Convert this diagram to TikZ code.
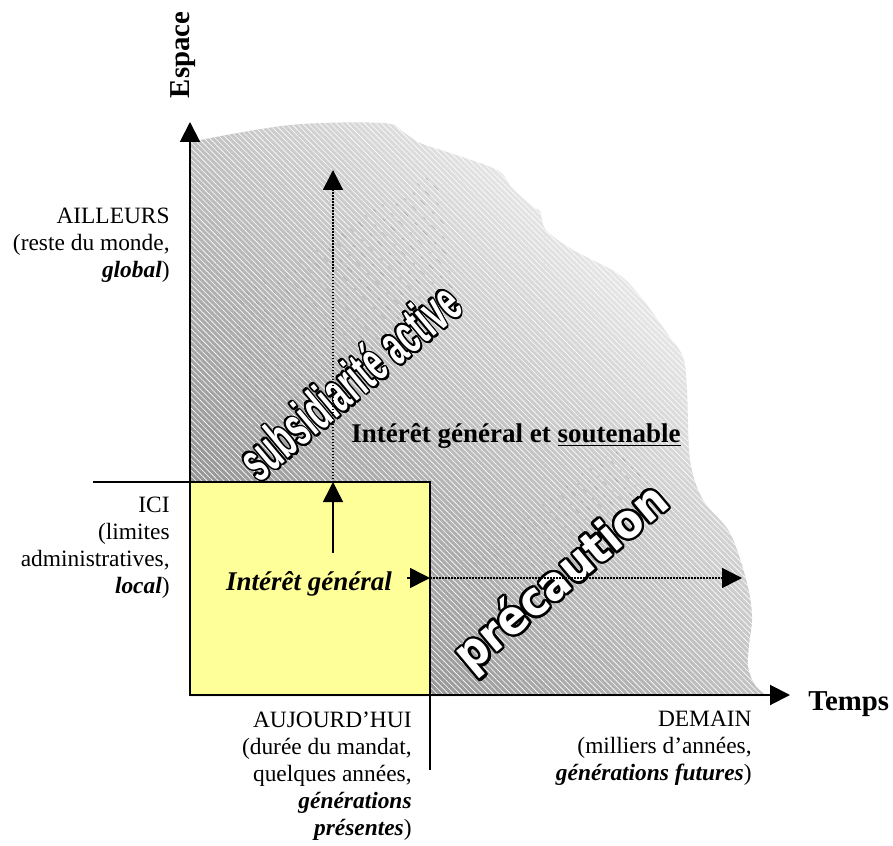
\documentclass[tikz,border=0pt]{standalone}
\usepackage{fontspec}
\setmainfont{Liberation Serif}
\newfontfamily\wafont{Liberation Sans}
\newfontfamily\wbfont{DejaVu Sans}
\usepackage{graphicx}
\usepackage{contour}
\contourlength{1.1pt}
\contournumber{24}
\usetikzlibrary{arrows.meta,patterns.meta}
\definecolor{boxyellow}{HTML}{FFFF99}
\def\grayregion{plot[smooth,tension=0.55] coordinates {(190,142) (290,125) (383,123) (403,132) (420,143) (450,153) (497,170) (512,188) (533,207) (540,211) (546,230) (573,250) (617,273) (640,296) (667,333) (683,357) (687,390) (690,460) (703,500) (730,533) (747,583) (752,617) (749,645) (748,667) (755,685) (767,696)} -- (190,696) -- cycle}
\newcommand{\subsword}{subsidiarité active}
\newcommand{\precword}{précaution}
\begin{document}
\begin{tikzpicture}[x=0.5pt,y=-0.5pt,
  axis/.style={line width=1pt,-{Triangle[width=10pt,length=10pt]}},
  solidarrow/.style={line width=0.75pt,-{Triangle[width=10pt,length=10pt]}},
  dotarrow/.style={line width=0.75pt,dash pattern=on 0.75pt off 0.75pt,-{Triangle[width=10pt,length=10pt]}},
  thinline/.style={line width=0.7pt},
  lab/.style={font=\fontsize{11.7}{13.5}\selectfont,align=right,inner sep=0pt},
  axlab/.style={font=\fontsize{14.4}{16}\selectfont\bfseries,inner sep=0pt},
  biglab/.style={font=\fontsize{13.5}{15}\selectfont\bfseries,inner sep=0pt},
  subsfont/.style={rotate=40,inner sep=0pt,font=\fontsize{28}{28}\selectfont\wafont\bfseries},
  precfont/.style={rotate=40,inner sep=0pt,font=\fontsize{21.5}{24}\selectfont\wbfont\bfseries},
  streak/.style={line width=0.35pt,black!55,opacity=0.4}]
\useasboundingbox (0,0) rectangle (893,845);
% shaded region
\shade[left color=black!44, middle color=black!13, right color=black!3, shading angle=135] \grayregion;
\fill[pattern={Lines[angle=-45,distance=2pt,line width=0.3pt]},pattern color=white,fill opacity=0.35] \grayregion;
% faint extrusion streaks behind the rotated words
\begin{scope}
  \clip (250,455) -- (455,292) -- (435,170) -- (232,300) -- cycle;
  \foreach \i in {0,...,45}{
    \pgfmathsetmacro{\ph}{mod(\i*37,11)}
    \draw[streak,dash pattern=on 3pt off 5pt on 1.5pt off 4pt,dash phase=\ph pt] (-100+\i*14,100) -- ++(420,420);
  }
\end{scope}
\begin{scope}
  \clip (462,630) -- (655,478) -- (620,445) -- (470,560) -- cycle;
  \foreach \i in {0,...,45}{
    \pgfmathsetmacro{\ph}{mod(\i*29,9)}
    \draw[streak,dash pattern=on 2.5pt off 4pt on 1pt off 3pt,dash phase=\ph pt] (60+\i*14,260) -- ++(420,420);
  }
\end{scope}
% coordinates
\coordinate (O) at (190,695);
\coordinate (ytip) at (190,122);
\coordinate (xtip) at (790,695);
\coordinate (hl) at (93,482);
\coordinate (hr) at (430,482);
\coordinate (vb) at (430,770);
\coordinate (vt) at (333,553);
\coordinate (vm) at (333,482);
\coordinate (vtop) at (333,170);
\coordinate (ht) at (407,578);
\coordinate (hm) at (430,578);
\coordinate (hend) at (742,578);
% box
\draw[thinline] (hl) -- (hr);
\draw[thinline] (hr) -- (vb);
\node[draw,line width=1pt,fill=boxyellow,inner sep=0pt,minimum width=120pt,minimum height=106.5pt] (box) at (310,588.5) {};
% rotated texts
\node[subsfont] (subs) at (350,382) {\scalebox{0.55}[1]{\color{white}\contour{black}{\subsword}}};
\node[precfont] (prec) at (563,580) {\scalebox{1}[1.1]{\color{white}\contour{black}{\precword}}};
% axes
\draw[axis] (O) -- (ytip);
\draw[axis] (O) -- (xtip);
% inner arrows
\draw[solidarrow] (vt) -- (vm);
\draw[dotarrow] (vm) -- (vtop);
\draw[solidarrow] (ht) -- (hm);
\draw[dotarrow] (hm) -- (hend);
% labels
\node[axlab,rotate=90,anchor=base] (esp) at (189,55) {Espace};
\node[axlab,anchor=base west] (temps) at (808,710) {Temps};
\node[lab,anchor=east] (ailleurs) at (170,245) {AILLEURS\\(reste du monde,\\\textbf{\textit{global}})};
\node[lab,anchor=east] (ici) at (170,548) {ICI\\(limites\\administratives,\\\textbf{\textit{local}})};
\node[lab,anchor=east] (auj) at (412,776) {AUJOURD’HUI\\(durée du mandat,\\quelques années,\\\textbf{\textit{générations}}\\\textbf{\textit{présentes}})};
\node[lab,anchor=east] (dem) at (752,748) {DEMAIN\\(milliers d’années,\\\textbf{\textit{générations futures}})};
\node[biglab,anchor=base] (igs) at (516,442) {Intérêt général et \underline{soutenable}};
\node[biglab,anchor=base] (ig) at (309,590) {\itshape Intérêt général};
\end{tikzpicture}
\end{document}
